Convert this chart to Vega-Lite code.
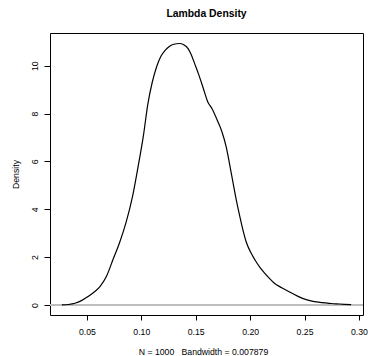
{
  "$schema": "https://vega.github.io/schema/vega-lite/v6.json",
  "width": 313,
  "height": 282,
  "autosize": {"type": "none"},
  "padding": {"left": 50, "top": 33, "right": 5, "bottom": 41},
  "background": "white",
  "title": {
    "text": "Lambda Density",
    "font": "Liberation Sans",
    "fontSize": 10.4,
    "fontWeight": "bold",
    "color": "black",
    "anchor": "middle",
    "baseline": "alphabetic",
    "offset": 6
  },
  "config": {
    "view": {"stroke": "black", "strokeWidth": 1},
    "axis": {
      "grid": false,
      "domain": false,
      "tickColor": "black",
      "labelColor": "black",
      "titleColor": "black",
      "labelFont": "Liberation Sans",
      "titleFont": "Liberation Sans",
      "labelFontSize": 8.7,
      "titleFontSize": 8.7,
      "titleFontWeight": "normal"
    }
  },
  "data": {
    "values": [
      {"x": 0.027, "y": 0.0},
      {"x": 0.033, "y": 0.02},
      {"x": 0.039, "y": 0.07},
      {"x": 0.045, "y": 0.18},
      {"x": 0.051, "y": 0.35},
      {"x": 0.057, "y": 0.55},
      {"x": 0.062, "y": 0.77},
      {"x": 0.068, "y": 1.2},
      {"x": 0.074, "y": 1.9},
      {"x": 0.080, "y": 2.6},
      {"x": 0.086, "y": 3.45},
      {"x": 0.092, "y": 4.55},
      {"x": 0.097, "y": 5.77},
      {"x": 0.102, "y": 7.1},
      {"x": 0.106, "y": 8.4},
      {"x": 0.110, "y": 9.3},
      {"x": 0.114, "y": 9.95},
      {"x": 0.118, "y": 10.4},
      {"x": 0.122, "y": 10.65},
      {"x": 0.126, "y": 10.82},
      {"x": 0.130, "y": 10.9},
      {"x": 0.135, "y": 10.93},
      {"x": 0.139, "y": 10.88},
      {"x": 0.143, "y": 10.72},
      {"x": 0.146, "y": 10.45},
      {"x": 0.149, "y": 10.09},
      {"x": 0.153, "y": 9.6},
      {"x": 0.157, "y": 9.05},
      {"x": 0.161, "y": 8.5},
      {"x": 0.165, "y": 8.2},
      {"x": 0.170, "y": 7.7},
      {"x": 0.174, "y": 7.25},
      {"x": 0.178, "y": 6.61},
      {"x": 0.1827, "y": 5.5},
      {"x": 0.1873, "y": 4.38},
      {"x": 0.1905, "y": 3.7},
      {"x": 0.1934, "y": 3.13},
      {"x": 0.1965, "y": 2.62},
      {"x": 0.2005, "y": 2.2},
      {"x": 0.2045, "y": 1.88},
      {"x": 0.209, "y": 1.57},
      {"x": 0.2133, "y": 1.33},
      {"x": 0.2175, "y": 1.12},
      {"x": 0.222, "y": 0.92},
      {"x": 0.229, "y": 0.72},
      {"x": 0.2362, "y": 0.54},
      {"x": 0.244, "y": 0.36},
      {"x": 0.2515, "y": 0.22},
      {"x": 0.259, "y": 0.14},
      {"x": 0.2668, "y": 0.10},
      {"x": 0.2745, "y": 0.06},
      {"x": 0.2821, "y": 0.04},
      {"x": 0.2928, "y": 0.01}
    ]
  },
  "layer": [
    {
      "mark": {"type": "rule", "color": "#bebebe", "strokeWidth": 1},
      "encoding": {
        "y": {"datum": 0, "type": "quantitative", "scale": {"domain": [-0.42, 11.37], "nice": false, "zero": false}}
      }
    },
    {
      "mark": {"type": "line", "color": "black", "strokeWidth": 1.2, "interpolate": "monotone"},
      "encoding": {
        "x": {
          "field": "x",
          "type": "quantitative",
          "scale": {"domain": [0.0161, 0.3037], "nice": false, "zero": false},
          "axis": {
            "title": "N = 1000\u00a0\u00a0\u00a0Bandwidth = 0.007879",
            "values": [0.05, 0.1, 0.15, 0.2, 0.25, 0.3],
            "format": ".2f",
            "tickSize": 5,
            "labelPadding": 11,
            "labelBaseline": "middle",
            "labelFlush": false,
            "labelOverlap": false,
            "titleX": 153,
            "titleY": 36,
            "titleBaseline": "middle",
            "titleAnchor": null
          }
        },
        "y": {
          "field": "y",
          "type": "quantitative",
          "scale": {"domain": [-0.42, 11.37], "nice": false, "zero": false},
          "axis": {
            "title": "Density",
            "values": [0, 2, 4, 6, 8, 10],
            "tickSize": 6,
            "labelAngle": -90,
            "labelAlign": "center",
            "labelBaseline": "middle",
            "labelPadding": 10,
            "labelFlush": false,
            "labelOverlap": false,
            "titleAngle": -90,
            "titleX": -34.5,
            "titleY": 141,
            "titleAlign": "center",
            "titleBaseline": "middle"
          }
        }
      }
    }
  ]
}
